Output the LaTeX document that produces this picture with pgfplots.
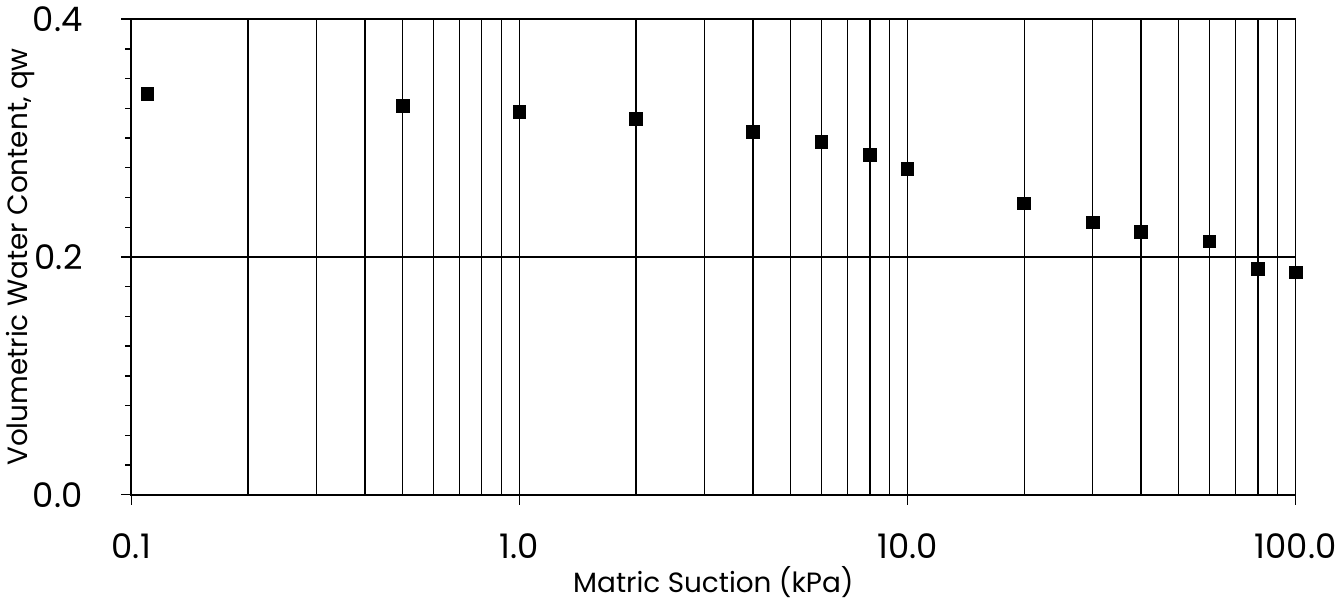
\documentclass[border=0pt]{standalone}
\usepackage{fontspec}
\setmainfont{Poppins}
\usepackage{pgfplots}
\pgfplotsset{compat=1.18}

\begin{document}
\begin{tikzpicture}
\begin{axis}[
    xmode=log,
    scale only axis,
    width=585pt, height=239pt,
    xmin=0.1, xmax=100,
    ymin=0, ymax=0.4,
    xtick={0.1,1,10,100},
    xticklabels={0.1,1.0,10.0,100.0},
    ytick={0,0.2,0.4},
    yticklabels={0.0,0.2,0.4},
    extra y ticks={0.025,0.05,0.075,0.1,0.125,0.15,0.175,0.225,0.25,0.275,0.3,0.325,0.35,0.375},
    extra y tick labels={},
    extra y tick style={grid=none, major tick length=3pt},
    xmajorgrids, xminorgrids, ymajorgrids,
    grid style={black, line width=0.7pt},
    minor grid style={black, line width=0.7pt},
    axis line style={line width=0.9pt},
    tick style={black, line width=0.7pt},
    tick align=outside,
    tick pos=left,
    major tick length=5pt,
    minor tick length=0pt,
    ticklabel style={font=\fontsize{17}{20}\selectfont},
    xticklabel style={yshift=-11pt},
    yticklabel style={xshift=-16pt},
    xlabel={Matric Suction (kPa)},
    ylabel={Volumetric Water Content, qw},
    label style={font=\fontsize{14}{16}\selectfont},
    xlabel style={yshift=3pt},
    ylabel style={yshift=-16pt},
]
\addplot[only marks, mark=square*, mark size=3.2pt, black] coordinates {
    (0.11,0.337) (0.5,0.327) (1,0.322) (2,0.316) (4,0.305) (6,0.297)
    (8,0.286) (10,0.274) (20,0.245) (30,0.229) (40,0.221) (60,0.213)
    (80,0.190) (100,0.187)
};
\end{axis}
\end{tikzpicture}
\end{document}
